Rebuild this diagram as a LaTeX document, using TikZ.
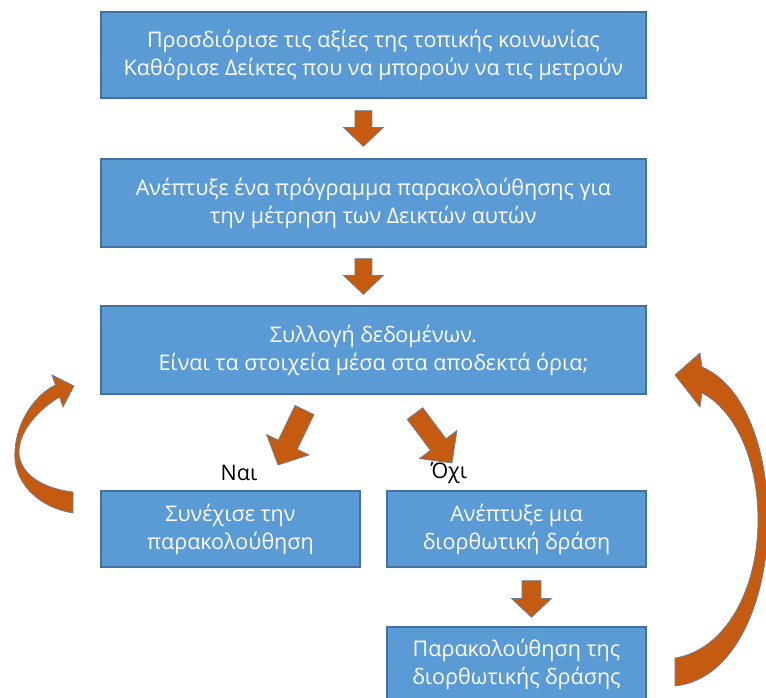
\documentclass[tikz,border=0pt]{standalone}
\usepackage{fontspec}
\setmainfont{Open Sans}
\usetikzlibrary{calc}
\definecolor{boxfill}{HTML}{5B9BD5}
\definecolor{boxline}{HTML}{41719C}
\definecolor{arrfill}{HTML}{C55A11}
\definecolor{arrline}{HTML}{6A7F96}
\tikzset{
  flowbox/.style={draw=boxline, line width=1.2pt, fill=boxfill, text=white, align=center,
    inner sep=0pt, font=\fontsize{21.5}{28}\selectfont},
  lbl/.style={text=black, font=\fontsize{21.5}{28}\selectfont, inner sep=0pt},
  fatarrow/.style={draw=arrline, line width=0.7pt, fill=arrfill, line join=miter}
}
% #1 tail, #2 tip, #3 shaft half width, #4 head half width, #5 head length
\newcommand{\blockarr}[5]{%
  \coordinate (hb) at ($(#2)!#5!(#1)$);
  \draw[fatarrow] ($(#1)!#3!90:(#2)$) -- ($(hb)!#3!90:(#2)$) -- ($(hb)!#4!90:(#2)$) -- (#2)
    -- ($(hb)!#4!-90:(#2)$) -- ($(hb)!#3!-90:(#2)$) -- ($(#1)!#3!-90:(#2)$) -- cycle;}
\begin{document}
\begin{tikzpicture}[x=1pt,y=-1pt]
\useasboundingbox (0,0) rectangle (766,697);
\fill[white] (0,0) rectangle (766,697);
\node[flowbox, minimum width=545pt, minimum height=86pt] (b1) at (373.4,55)
  {Προσδιόρισε τις αξίες της τοπικής κοινωνίας\\Καθόρισε Δείκτες που να μπορούν να τις μετρούν};
\node[flowbox, minimum width=545pt, minimum height=88pt] (b2) at (373.4,203)
  {Ανέπτυξε ένα πρόγραμμα παρακολούθησης για\\την μέτρηση των Δεικτών αυτών};
\node[flowbox, minimum width=545pt, minimum height=88pt] (b3) at (373.4,350)
  {Συλλογή δεδομένων.\\Είναι τα στοιχεία μέσα στα αποδεκτά όρια;};
\node[flowbox, minimum width=259pt, minimum height=76pt] (yes) at (230.5,529)
  {Συνέχισε την\\παρακολούθηση};
\node[flowbox, minimum width=259pt, minimum height=76pt] (no) at (516.5,529)
  {Ανέπτυξε μια\\διορθωτική δράση};
\node[flowbox, minimum width=259pt, minimum height=74pt] (mon) at (516.5,664)
  {Παρακολούθηση της\\διορθωτικής δράσης};
\node[lbl] (nai) at (239,473) {Ναι};
\node[lbl] (ochi) at (449,473) {Όχι};

\coordinate (a1t) at ($(b1.south)+(-10,12)$);
\coordinate (a1p) at ($(b2.north)+(-10,-12)$);
\blockarr{a1t}{a1p}{8.5pt}{20pt}{19pt}
\coordinate (a2t) at ($(b2.south)+(-10,11)$);
\coordinate (a2p) at ($(b3.north)+(-10,-11)$);
\blockarr{a2t}{a2p}{8.5pt}{20pt}{19pt}
\coordinate (a3t) at ($(no.south)+(15,13)$);
\coordinate (a3p) at ($(mon.north)+(15,-9)$);
\blockarr{a3t}{a3p}{9.5pt}{20pt}{19pt}
\coordinate (dlt) at (304.5,410);
\coordinate (dlp) at (278,465);
\blockarr{dlt}{dlp}{10.5pt}{23.5pt}{22.5pt}
\coordinate (drt) at (415,413.5);
\coordinate (drp) at (452,463);
\blockarr{drt}{drp}{9.7pt}{23.4pt}{23pt}

% curved arrow: from "yes" back to b3
\draw[fatarrow] (73,513) .. controls (36,507) and (12,480) .. (15,450)
  .. controls (17,420) and (36,394) .. (55.5,385) -- (52,375) -- (74,386) -- (63,407)
  -- (59.5,397) .. controls (40,409) and (21,428) .. (19,450)
  .. controls (18,472) and (40,488) .. (73,492) -- cycle;
% curved arrow: from monitoring back to b3
\draw[fatarrow] (702,367) .. controls (745,385) and (768,450) .. (768,520)
  .. controls (768,600) and (735,680) .. (675,686) -- (675,658)
  .. controls (725,650) and (758,590) .. (758,520)
  .. controls (758,460) and (735,410) .. (702,393) -- (700,407) -- (675,375) -- (700,353) -- cycle;
\end{tikzpicture}
\end{document}
